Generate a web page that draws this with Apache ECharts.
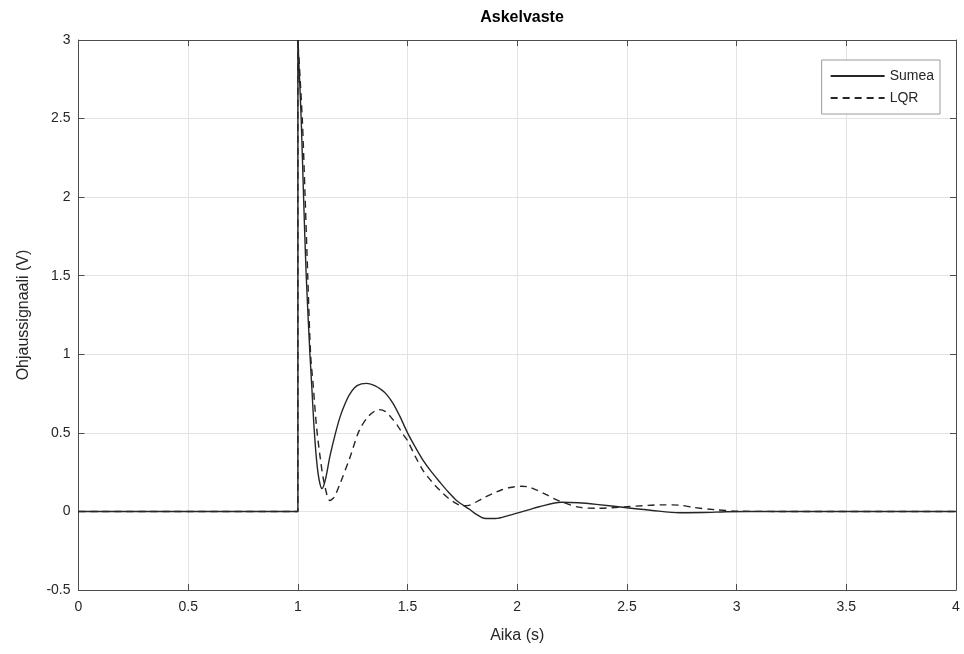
<!DOCTYPE html>
<html>
<head>
<meta charset="utf-8">
<script src="https://cdn.jsdelivr.net/npm/echarts@6/dist/echarts.min.js"></script>
<style>html,body{margin:0;padding:0;background:#fff;}#c{width:964px;height:654px;}</style>
</head>
<body>
<div id="c"></div>
<script>
const titleText = 'Askelvaste';
const xName = 'Aika (s)';
const yName = 'Ohjaussignaali (V)';
const seriesNames = ['Sumea', 'LQR'];

const sumeaT = [0, 1.0, 1.0, 1.015, 1.026, 1.038, 1.055, 1.064, 1.073, 1.085, 1.097, 1.11, 1.125, 1.146, 1.17, 1.192, 1.215, 1.238, 1.27, 1.313, 1.35, 1.38, 1.404, 1.435, 1.465, 1.5, 1.535, 1.571, 1.61, 1.647, 1.685, 1.723, 1.784, 1.81, 1.855, 1.9, 1.962, 2.05, 2.1, 2.2, 2.28, 2.36, 2.5, 2.615, 2.74, 2.85, 2.95, 3.05, 4.0];
const sumeaV = [0, 0, 3.0, 2.5, 2.0, 1.5, 1.0, 0.78, 0.55, 0.33, 0.2, 0.145, 0.2, 0.35, 0.49, 0.6, 0.685, 0.75, 0.8, 0.815, 0.8, 0.775, 0.745, 0.685, 0.605, 0.5, 0.41, 0.325, 0.25, 0.187, 0.125, 0.07, 0.012, -0.015, -0.045, -0.045, -0.025, 0.01, 0.03, 0.058, 0.055, 0.045, 0.023, 0.006, -0.008, -0.007, -0.002, 0, 0];

const lqrT = [0, 1.0, 1.0, 1.02, 1.033, 1.045, 1.058, 1.07, 1.085, 1.103, 1.12, 1.146, 1.165, 1.192, 1.238, 1.28, 1.325, 1.37, 1.4, 1.43, 1.455, 1.48, 1.5, 1.535, 1.571, 1.61, 1.647, 1.685, 1.723, 1.75, 1.784, 1.812, 1.85, 1.888, 1.93, 1.962, 2.02, 2.055, 2.09, 2.13, 2.17, 2.205, 2.28, 2.36, 2.5, 2.66, 2.74, 2.8, 2.9, 3.0, 3.2, 4.0];
const lqrV = [0, 0, 3.0, 2.5, 2.0, 1.5, 1.0, 0.8, 0.54, 0.33, 0.18, 0.07, 0.09, 0.176, 0.346, 0.516, 0.61, 0.648, 0.635, 0.59, 0.545, 0.49, 0.45, 0.35, 0.26, 0.19, 0.134, 0.085, 0.05, 0.036, 0.04, 0.06, 0.088, 0.113, 0.138, 0.151, 0.16, 0.155, 0.135, 0.108, 0.08, 0.06, 0.027, 0.02, 0.03, 0.042, 0.04, 0.026, 0.011, 0.002, 0, 0];

const xMin = 0, xMax = 4, xStep = 0.5;
const yMin = -0.5, yMax = 3, yStep = 0.5;

const FONT = "'Liberation Sans Narrow', 'Liberation Sans', Arial, sans-serif";
const AXIS_COLOR = '#4d4d4d';
const TEXT_COLOR = '#262626';

function pairs(t, v) { return t.map((x, i) => [x, v[i]]); }

const chart = echarts.init(document.getElementById('c'), null, {renderer: 'canvas'});
chart.setOption({
  animation: false,
  backgroundColor: '#fff',
  title: {
    text: titleText, left: 517, top: 5, textAlign: 'center',
    textStyle: {fontFamily: FONT, fontSize: 16, fontWeight: 'bold', color: '#000'}
  },
  legend: {
    orient: 'vertical', right: 24, top: 60,
    backgroundColor: '#fff', borderColor: '#9a9a9a', borderWidth: 1,
    padding: [9, 6, 9, 8], itemGap: 8, itemWidth: 54, itemHeight: 12,
    textStyle: {fontFamily: FONT, fontSize: 14, color: TEXT_COLOR, padding: [0, 0, 0, 0]},
    itemStyle: {opacity: 0},
    data: seriesNames
  },
  grid: {left: 78.5, right: 8, top: 40, bottom: 64, containLabel: false},
  xAxis: [{
    type: 'value', min: xMin, max: xMax, interval: xStep,
    name: xName, nameLocation: 'middle', nameGap: 38,
    nameTextStyle: {fontFamily: FONT, fontSize: 16, color: TEXT_COLOR},
    axisLine: {show: true, onZero: false, lineStyle: {color: AXIS_COLOR, width: 1}},
    axisTick: {show: true, inside: true, length: 6, lineStyle: {color: AXIS_COLOR}},
    axisLabel: {fontFamily: FONT, fontSize: 14, color: TEXT_COLOR, margin: 10,
      formatter: v => String(v)},
    splitLine: {show: true, lineStyle: {color: '#e3e3e3', width: 1}}
  }, {
    type: 'value', min: xMin, max: xMax, interval: xStep, position: 'top',
    axisLine: {show: true, onZero: false, lineStyle: {color: AXIS_COLOR, width: 1}},
    axisTick: {show: true, inside: true, length: 6, lineStyle: {color: AXIS_COLOR}},
    axisLabel: {show: false}, splitLine: {show: false}
  }],
  yAxis: [{
    type: 'value', min: yMin, max: yMax, interval: yStep,
    name: yName, nameLocation: 'middle', nameGap: 47, nameRotate: 90,
    nameTextStyle: {fontFamily: FONT, fontSize: 16, color: TEXT_COLOR},
    axisLine: {show: true, onZero: false, lineStyle: {color: AXIS_COLOR, width: 1}},
    axisTick: {show: true, inside: true, length: 6, lineStyle: {color: AXIS_COLOR}},
    axisLabel: {fontFamily: FONT, fontSize: 14, color: TEXT_COLOR, margin: 8,
      formatter: v => String(v)},
    splitLine: {show: true, lineStyle: {color: '#e3e3e3', width: 1}}
  }, {
    type: 'value', min: yMin, max: yMax, interval: yStep, position: 'right',
    axisLine: {show: true, onZero: false, lineStyle: {color: AXIS_COLOR, width: 1}},
    axisTick: {show: true, inside: true, length: 6, lineStyle: {color: AXIS_COLOR}},
    axisLabel: {show: false}, splitLine: {show: false}
  }],
  series: [{
    name: seriesNames[0], type: 'line', data: pairs(sumeaT, sumeaV),
    smooth: 0.3, symbol: 'none', showSymbol: false, clip: true,
    lineStyle: {color: '#262626', width: 1.4, type: 'solid'},
    itemStyle: {color: '#262626'}
  }, {
    name: seriesNames[1], type: 'line', data: pairs(lqrT, lqrV),
    smooth: 0.3, symbol: 'none', showSymbol: false, clip: true,
    lineStyle: {color: '#262626', width: 1.4, type: [7, 5]},
    itemStyle: {color: '#262626'}
  }]
});
</script>
</body>
</html>
